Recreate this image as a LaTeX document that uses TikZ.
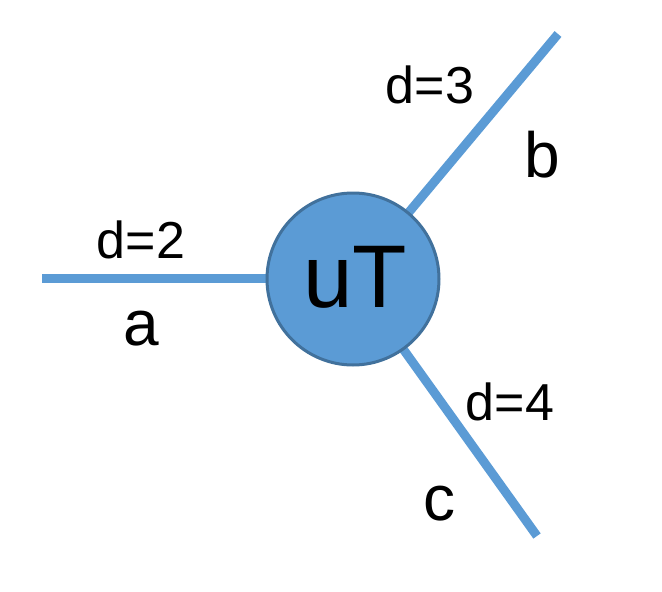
\documentclass[tikz,border=0pt]{standalone}
\usepackage{fontspec}
\setmainfont{Liberation Sans}
\definecolor{fillblue}{HTML}{5B9BD5}
\definecolor{edgeblue}{HTML}{41719C}
\begin{document}
\begin{tikzpicture}[x=1pt,y=-1pt,
  edge/.style={draw=fillblue,line width=9pt},
  lbl/.style={anchor=base,inner sep=0pt,font=\fontsize{52}{58}\selectfont},
  letter/.style={anchor=base,inner sep=0pt,font=\fontsize{64}{70}\selectfont}]
\useasboundingbox (0,0) rectangle (662,592);
\coordinate (ctr) at (353,279);
\coordinate (ea) at (42,278);
\coordinate (eb) at (558,34);
\coordinate (ec) at (537,536);
\draw[edge] (ea) -- (353,278);
\draw[edge] (ctr) -- (eb);
\draw[edge] (ctr) -- (ec);
\node[circle,fill=fillblue,draw=edgeblue,line width=3pt,minimum size=172pt,inner sep=0pt] (ut) at (ctr) {};
\node[anchor=base,inner sep=0pt,font=\fontsize{89}{95}\selectfont] (utl) at (355,307) {uT};
\node[lbl] (d2) at (141,258) {d=2};
\node[lbl] (d3) at (430,103) {d=3};
\node[lbl] (d4) at (510,420) {d=4};
\node[letter] (la) at (141,345) {a};
\node[letter] (lb) at (542,177) {b};
\node[letter] (lc) at (439,520) {c};
\end{tikzpicture}
\end{document}
